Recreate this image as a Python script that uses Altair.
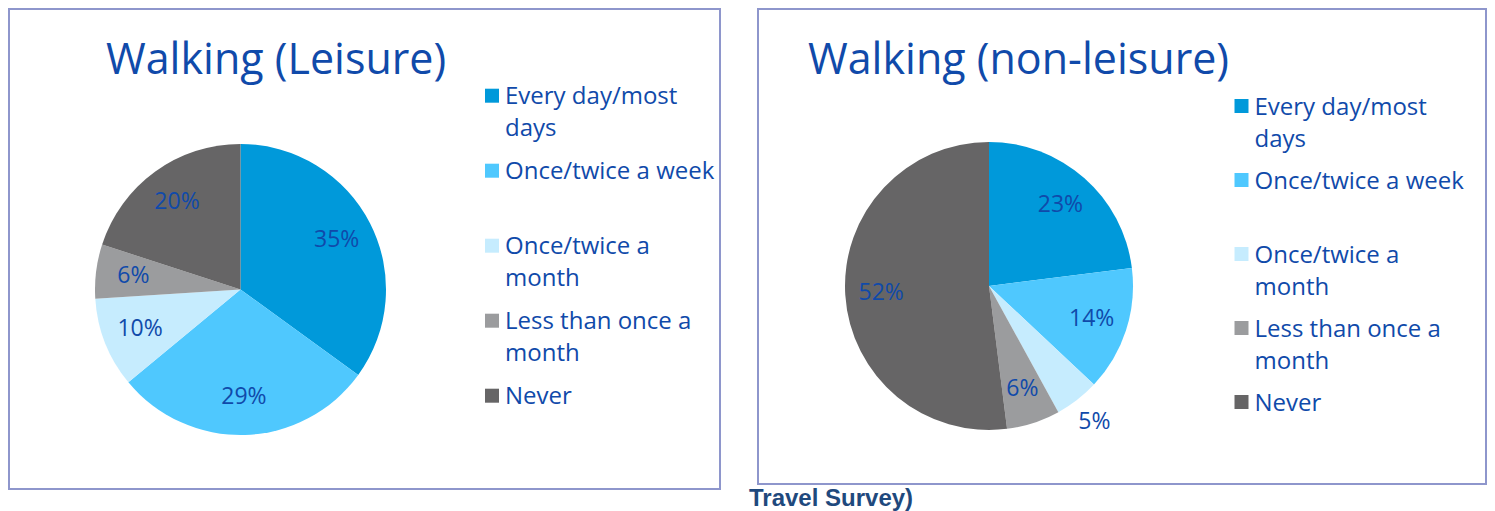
import altair as alt
import pandas as pd

# ---- data ----
categories = ["Every day/most days", "Once/twice a week", "Once/twice a month",
              "Less than once a month", "Never"]
legend_lines = [["Every day/most", "days"], ["Once/twice a week"], ["Once/twice a", "month"],
                ["Less than once a", "month"], ["Never"]]
colors = ["#0099DA", "#4FC8FE", "#C6ECFE", "#9B9C9E", "#666566"]
leisure_values = [35, 29, 10, 6, 20]
nonleisure_values = [23, 14, 5, 6, 52]
titles = ["Walking (Leisure)", "Walking (non-leisure)"]
footer_text = "Travel Survey)"

TEXT_COL = "#104AAA"
FONT = "Open Sans"


def panel(values, title, cx, cy, r, leg_x, leg_y0, leg_y1, title_x, w, h, footer=False):
    df = pd.DataFrame({
        "category": categories,
        "value": values,
        "idx": list(range(len(categories))),
        "label": [f"{v}%" for v in values],
        "legend": ["\n".join(l) for l in legend_lines],
    })
    color = alt.Color("category:N", sort=categories,
                      scale=alt.Scale(domain=categories, range=colors), legend=None)
    base = alt.Chart(df).encode(
        theta=alt.Theta("value:Q", stack=True),
        order=alt.Order("idx:Q"),
        x=alt.value(cx),
        y=alt.value(cy),
    )
    arcs = base.mark_arc(outerRadius=r).encode(color=color)
    inner = base.mark_text(radius=108, font=FONT, fontSize=23, color=TEXT_COL).encode(
        text=alt.condition("datum.value >= 6", alt.Text("label:N"), alt.value(""))
    )
    outer = base.mark_text(radius=172, font=FONT, fontSize=23, color=TEXT_COL).encode(
        text=alt.condition("datum.value < 6", alt.Text("label:N"), alt.value(""))
    )
    # legend drawn from the same categories
    ly = alt.Y("category:N", sort=categories, axis=None,
               scale=alt.Scale(type="point", domain=categories, range=[leg_y0, leg_y1], padding=0))
    leg_sym = alt.Chart(df).mark_square(size=196, opacity=1, strokeWidth=0).encode(
        x=alt.value(leg_x), y=ly, color=color
    )
    leg_txt = alt.Chart(df).mark_text(
        font=FONT, fontSize=24, color=TEXT_COL, align="left", baseline="alphabetic",
        dy=8.5, lineHeight=32, lineBreak="\n"
    ).encode(x=alt.value(leg_x + 13), y=ly, text="legend:N")
    ttl = alt.Chart(alt.Data(values=[{"t": title}])).mark_text(
        font=FONT, fontSize=43, color=TEXT_COL, align="left", baseline="alphabetic"
    ).encode(text="t:N", x=alt.value(title_x), y=alt.value(65))
    layers = [arcs, inner, outer, leg_sym, leg_txt, ttl]
    if footer:
        foot = alt.Chart(alt.Data(values=[{"t": footer_text}])).mark_text(
            font="Liberation Sans", fontSize=24, fontWeight="bold", color="#1F497D",
            align="left", baseline="alphabetic"
        ).encode(text="t:N", x=alt.value(-9), y=alt.value(497))
        layers.append(foot)
    return alt.layer(*layers).properties(width=w, height=h).resolve_scale(theta="independent")


left = panel(leisure_values, titles[0], 231.5, 280.5, 145.5, 483, 86.7, 386.7, 97, 711, 480)
right = panel(nonleisure_values, titles[1], 231, 277, 144, 483.5, 97, 393, 50, 728, 475, footer=True)

chart = alt.hconcat(left, right, spacing=38, bounds="flush").resolve_scale(
    color="independent", theta="independent", y="independent"
).properties(
    padding=0, background="white"
).configure_view(stroke="#8E96CC", strokeWidth=2)

chart.save("out.html", embed_options={"renderer": "svg", "actions": False})
